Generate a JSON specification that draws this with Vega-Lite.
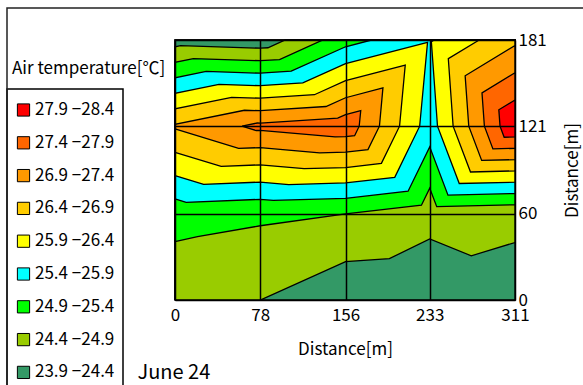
{
  "$schema": "https://vega.github.io/schema/vega-lite/v6.json",
  "width": 340,
  "height": 260,
  "autosize": {"type": "none"},
  "padding": {"left": 175, "top": 40, "right": 68, "bottom": 85},
  "background": "white",
  "title": {"text": "Air temperature[℃]", "orient": "top", "anchor": "start", "frame": "group", "dx": -163, "dy": 71, "offset": 0, "fontSize": 17, "fontWeight": "normal", "color": "black"},
  "config": {
    "font": "Noto Sans CJK JP",
    "view": {"stroke": "black", "strokeWidth": 1.5},
    "legend": {"strokeWidth": 1.5}
  },
  "data": {"values": [
    {"p":1,"b":"23.9 −24.4","k":0,"x":0,"y":0},{"p":1,"b":"23.9 −24.4","k":1,"x":311,"y":0},{"p":1,"b":"23.9 −24.4","k":2,"x":311,"y":181},{"p":1,"b":"23.9 −24.4","k":3,"x":0,"y":181},{"p":1,"b":"23.9 −24.4","k":4,"x":0,"y":0},
    {"p":2,"b":"24.4 −24.9","k":0,"x":0,"y":0},{"p":2,"b":"24.4 −24.9","k":1,"x":78,"y":0},{"p":2,"b":"24.4 −24.9","k":2,"x":156,"y":26.7},{"p":2,"b":"24.4 −24.9","k":3,"x":196.1,"y":28.8},{"p":2,"b":"24.4 −24.9","k":4,"x":233,"y":42.5},{"p":2,"b":"24.4 −24.9","k":5,"x":271,"y":30.8},{"p":2,"b":"24.4 −24.9","k":6,"x":311,"y":40},{"p":2,"b":"24.4 −24.9","k":7,"x":311,"y":181},{"p":2,"b":"24.4 −24.9","k":8,"x":100.8,"y":181},{"p":2,"b":"24.4 −24.9","k":9,"x":85,"y":175.6},{"p":2,"b":"24.4 −24.9","k":10,"x":78,"y":175.3},{"p":2,"b":"24.4 −24.9","k":11,"x":5.1,"y":177.1},{"p":2,"b":"24.4 −24.9","k":12,"x":0,"y":176.3},{"p":2,"b":"24.4 −24.9","k":13,"x":0,"y":0},
    {"p":3,"b":"24.9 −25.4","k":0,"x":0,"y":40.7},{"p":3,"b":"24.9 −25.4","k":1,"x":20.6,"y":44.1},{"p":3,"b":"24.9 −25.4","k":2,"x":78,"y":51.7},{"p":3,"b":"24.9 −25.4","k":3,"x":156,"y":60},{"p":3,"b":"24.9 −25.4","k":4,"x":225.4,"y":66},{"p":3,"b":"24.9 −25.4","k":5,"x":233,"y":77.8},{"p":3,"b":"24.9 −25.4","k":6,"x":239.4,"y":65},{"p":3,"b":"24.9 −25.4","k":7,"x":311,"y":66.3},{"p":3,"b":"24.9 −25.4","k":8,"x":311,"y":181},{"p":3,"b":"24.9 −25.4","k":9,"x":135.3,"y":181},{"p":3,"b":"24.9 −25.4","k":10,"x":95.6,"y":167.4},{"p":3,"b":"24.9 −25.4","k":11,"x":78,"y":166.6},{"p":3,"b":"24.9 −25.4","k":12,"x":16.8,"y":168.1},{"p":3,"b":"24.9 −25.4","k":13,"x":0,"y":165.5},{"p":3,"b":"24.9 −25.4","k":14,"x":0,"y":40.7},
    {"p":4,"b":"25.4 −25.9","k":0,"x":0,"y":70.4},{"p":4,"b":"25.4 −25.9","k":1,"x":10.2,"y":68},{"p":4,"b":"25.4 −25.9","k":2,"x":78,"y":70.1},{"p":4,"b":"25.4 −25.9","k":3,"x":89.9,"y":69.3},{"p":4,"b":"25.4 −25.9","k":4,"x":156,"y":70.7},{"p":4,"b":"25.4 −25.9","k":5,"x":213.2,"y":75.7},{"p":4,"b":"25.4 −25.9","k":6,"x":233,"y":106.6},{"p":4,"b":"25.4 −25.9","k":7,"x":249.7,"y":73},{"p":4,"b":"25.4 −25.9","k":8,"x":311,"y":74.1},{"p":4,"b":"25.4 −25.9","k":9,"x":311,"y":181},{"p":4,"b":"25.4 −25.9","k":10,"x":179.7,"y":181},{"p":4,"b":"25.4 −25.9","k":11,"x":156,"y":176.3},{"p":4,"b":"25.4 −25.9","k":12,"x":106.3,"y":159.3},{"p":4,"b":"25.4 −25.9","k":13,"x":78,"y":157.9},{"p":4,"b":"25.4 −25.9","k":14,"x":28.5,"y":159.1},{"p":4,"b":"25.4 −25.9","k":15,"x":0,"y":154.7},{"p":4,"b":"25.4 −25.9","k":16,"x":0,"y":70.4},
    {"p":5,"b":"25.9 −26.4","k":0,"x":0,"y":86.6},{"p":5,"b":"25.9 −26.4","k":1,"x":26.2,"y":80.5},{"p":5,"b":"25.9 −26.4","k":2,"x":78,"y":82.1},{"p":5,"b":"25.9 −26.4","k":3,"x":104,"y":80.3},{"p":5,"b":"25.9 −26.4","k":4,"x":156,"y":81.5},{"p":5,"b":"25.9 −26.4","k":5,"x":201,"y":85.4},{"p":5,"b":"25.9 −26.4","k":6,"x":223.8,"y":121},{"p":5,"b":"25.9 −26.4","k":7,"x":231,"y":179.4},{"p":5,"b":"25.9 −26.4","k":8,"x":156,"y":164.5},{"p":5,"b":"25.9 −26.4","k":9,"x":116.9,"y":151.1},{"p":5,"b":"25.9 −26.4","k":10,"x":78,"y":149.2},{"p":5,"b":"25.9 −26.4","k":11,"x":40.2,"y":150.1},{"p":5,"b":"25.9 −26.4","k":12,"x":0,"y":143.9},{"p":5,"b":"25.9 −26.4","k":13,"x":0,"y":86.6},
    {"p":6,"b":"25.9 −26.4","k":0,"x":237.1,"y":181},{"p":6,"b":"25.9 −26.4","k":1,"x":234.5,"y":179.8},{"p":6,"b":"25.9 −26.4","k":2,"x":240.1,"y":121},{"p":6,"b":"25.9 −26.4","k":3,"x":260,"y":81.1},{"p":6,"b":"25.9 −26.4","k":4,"x":311,"y":82},{"p":6,"b":"25.9 −26.4","k":5,"x":311,"y":181},{"p":6,"b":"25.9 −26.4","k":6,"x":237.1,"y":181},
    {"p":7,"b":"26.4 −26.9","k":0,"x":0,"y":102.8},{"p":7,"b":"26.4 −26.9","k":1,"x":42.2,"y":93},{"p":7,"b":"26.4 −26.9","k":2,"x":78,"y":94.1},{"p":7,"b":"26.4 −26.9","k":3,"x":118.1,"y":91.4},{"p":7,"b":"26.4 −26.9","k":4,"x":156,"y":92.2},{"p":7,"b":"26.4 −26.9","k":5,"x":188.8,"y":95.1},{"p":7,"b":"26.4 −26.9","k":6,"x":205.4,"y":121},{"p":7,"b":"26.4 −26.9","k":7,"x":210.6,"y":163.5},{"p":7,"b":"26.4 −26.9","k":8,"x":156,"y":152.7},{"p":7,"b":"26.4 −26.9","k":9,"x":127.5,"y":142.9},{"p":7,"b":"26.4 −26.9","k":10,"x":78,"y":140.5},{"p":7,"b":"26.4 −26.9","k":11,"x":51.8,"y":141.1},{"p":7,"b":"26.4 −26.9","k":12,"x":0,"y":133.1},{"p":7,"b":"26.4 −26.9","k":13,"x":0,"y":102.8},
    {"p":8,"b":"26.4 −26.9","k":0,"x":278.2,"y":181},{"p":8,"b":"26.4 −26.9","k":1,"x":250,"y":168},{"p":8,"b":"26.4 −26.9","k":2,"x":254.4,"y":121},{"p":8,"b":"26.4 −26.9","k":3,"x":270.3,"y":89.1},{"p":8,"b":"26.4 −26.9","k":4,"x":311,"y":89.9},{"p":8,"b":"26.4 −26.9","k":5,"x":311,"y":181},{"p":8,"b":"26.4 −26.9","k":6,"x":278.2,"y":181},
    {"p":9,"b":"26.9 −27.4","k":0,"x":0,"y":119.1},{"p":9,"b":"26.9 −27.4","k":1,"x":58.2,"y":105.5},{"p":9,"b":"26.9 −27.4","k":2,"x":78,"y":106.1},{"p":9,"b":"26.9 −27.4","k":3,"x":132.3,"y":102.4},{"p":9,"b":"26.9 −27.4","k":4,"x":156,"y":103},{"p":9,"b":"26.9 −27.4","k":5,"x":176.5,"y":104.7},{"p":9,"b":"26.9 −27.4","k":6,"x":187,"y":121},{"p":9,"b":"26.9 −27.4","k":7,"x":190.2,"y":147.7},{"p":9,"b":"26.9 −27.4","k":8,"x":156,"y":140.8},{"p":9,"b":"26.9 −27.4","k":9,"x":138.1,"y":134.7},{"p":9,"b":"26.9 −27.4","k":10,"x":78,"y":131.8},{"p":9,"b":"26.9 −27.4","k":11,"x":63.5,"y":132.1},{"p":9,"b":"26.9 −27.4","k":12,"x":0,"y":122.3},{"p":9,"b":"26.9 −27.4","k":13,"x":0,"y":119.1},
    {"p":10,"b":"26.9 −27.4","k":0,"x":311,"y":177.2},{"p":10,"b":"26.9 −27.4","k":1,"x":265.4,"y":156.1},{"p":10,"b":"26.9 −27.4","k":2,"x":268.7,"y":121},{"p":10,"b":"26.9 −27.4","k":3,"x":280.5,"y":97.2},{"p":10,"b":"26.9 −27.4","k":4,"x":311,"y":97.7},{"p":10,"b":"26.9 −27.4","k":5,"x":311,"y":177.2},
    {"p":11,"b":"27.4 −27.9","k":0,"x":61.3,"y":121},{"p":11,"b":"27.4 −27.9","k":1,"x":74.2,"y":118},{"p":11,"b":"27.4 −27.9","k":2,"x":78,"y":118.1},{"p":11,"b":"27.4 −27.9","k":3,"x":146.4,"y":113.5},{"p":11,"b":"27.4 −27.9","k":4,"x":156,"y":113.7},{"p":11,"b":"27.4 −27.9","k":5,"x":164.3,"y":114.4},{"p":11,"b":"27.4 −27.9","k":6,"x":168.5,"y":121},{"p":11,"b":"27.4 −27.9","k":7,"x":169.9,"y":131.8},{"p":11,"b":"27.4 −27.9","k":8,"x":156,"y":129},{"p":11,"b":"27.4 −27.9","k":9,"x":148.8,"y":126.6},{"p":11,"b":"27.4 −27.9","k":10,"x":78,"y":123.1},{"p":11,"b":"27.4 −27.9","k":11,"x":75.2,"y":123.2},{"p":11,"b":"27.4 −27.9","k":12,"x":61.3,"y":121},
    {"p":12,"b":"27.4 −27.9","k":0,"x":311,"y":158.2},{"p":12,"b":"27.4 −27.9","k":1,"x":280.8,"y":144.2},{"p":12,"b":"27.4 −27.9","k":2,"x":283,"y":121},{"p":12,"b":"27.4 −27.9","k":3,"x":290.8,"y":105.2},{"p":12,"b":"27.4 −27.9","k":4,"x":311,"y":105.6},{"p":12,"b":"27.4 −27.9","k":5,"x":311,"y":158.2},
    {"p":13,"b":"27.9 −28.4","k":0,"x":311,"y":139.2},{"p":13,"b":"27.9 −28.4","k":1,"x":296.2,"y":132.4},{"p":13,"b":"27.9 −28.4","k":2,"x":297.3,"y":121},{"p":13,"b":"27.9 −28.4","k":3,"x":301.1,"y":113.3},{"p":13,"b":"27.9 −28.4","k":4,"x":311,"y":113.5},{"p":13,"b":"27.9 −28.4","k":5,"x":311,"y":139.2}
  ]},
  "layer": [
    {
      "mark": {"type": "line", "filled": true, "stroke": "black", "strokeWidth": 1.3, "strokeJoin": "miter", "fillOpacity": 1},
      "encoding": {
        "x": {"field": "x", "type": "quantitative",
              "scale": {"domain": [0, 311], "nice": false, "zero": false},
              "axis": {"orient": "bottom", "values": [0, 78, 156, 233, 311], "grid": true, "gridColor": "black", "gridWidth": 1.5, "gridOpacity": 1,
                       "ticks": false, "domain": false, "labelFlush": false, "labelFontSize": 17, "labelColor": "black", "labelPadding": 7,
                       "title": "Distance[m]", "titleFontSize": 17, "titleFontWeight": "normal", "titleColor": "black", "titlePadding": 18, "zindex": 1}},
        "y": {"field": "y", "type": "quantitative",
              "scale": {"domain": [0, 181], "nice": false, "zero": false},
              "axis": {"orient": "right", "values": [0, 60, 121, 181], "grid": true, "gridColor": "black", "gridWidth": 1.5, "gridOpacity": 1,
                       "ticks": false, "domain": false, "labelFlush": false, "labelFontSize": 17, "labelColor": "black", "labelPadding": 3,
                       "title": "Distance[m]", "titleAngle": 270, "titleX": 57, "titleY": 130, "titleAlign": "center", "titleBaseline": "middle",
                       "titleFontSize": 17, "titleFontWeight": "normal", "titleColor": "black", "zindex": 1}},
        "color": {"field": "b", "type": "nominal",
                  "scale": {"domain": ["27.9 −28.4", "27.4 −27.9", "26.9 −27.4", "26.4 −26.9", "25.9 −26.4", "25.4 −25.9", "24.9 −25.4", "24.4 −24.9", "23.9 −24.4"],
                            "range": ["#FF0000", "#FF6600", "#FF9900", "#FFCC00", "#FFFF00", "#00FFFF", "#00FF00", "#99CC00", "#339966"]},
                  "legend": {"title": null, "orient": "none", "legendX": -168, "legendY": 49, "strokeColor": "black", "fillColor": "white", "padding": 8,
                             "symbolType": "square", "symbolSize": 150, "symbolStrokeColor": "black", "symbolStrokeWidth": 1, "symbolOpacity": 1,
                             "labelFontSize": 17, "labelColor": "black", "labelOffset": 3, "rowPadding": 6.8, "clipHeight": 26}},
        "detail": {"field": "p", "type": "nominal"},
        "order": {"field": "k", "type": "quantitative"}
      }
    },
    {
      "mark": {"type": "point", "opacity": 0},
      "encoding": {
        "x": {"field": "x", "type": "quantitative"},
        "y": {"field": "y", "type": "quantitative",
              "axis": {"orient": "left", "domain": false, "ticks": false, "labels": false, "grid": false,
                       "title": "June 24", "titleAngle": 0, "titleX": -38, "titleY": 332, "titleAlign": "left", "titleBaseline": "middle",
                       "titleFontSize": 20, "titleFontWeight": "normal", "titleColor": "black"}},
        "shape": {"field": "p", "type": "nominal",
                  "legend": {"title": null, "values": [1], "orient": "none", "legendX": -168, "legendY": -32, "padding": 320,
                             "strokeColor": "#222222", "symbolOpacity": 0, "labelOpacity": 0, "labelExpr": "''"}}
      }
    }
  ],
  "resolve": {"axis": {"y": "independent"}}
}
